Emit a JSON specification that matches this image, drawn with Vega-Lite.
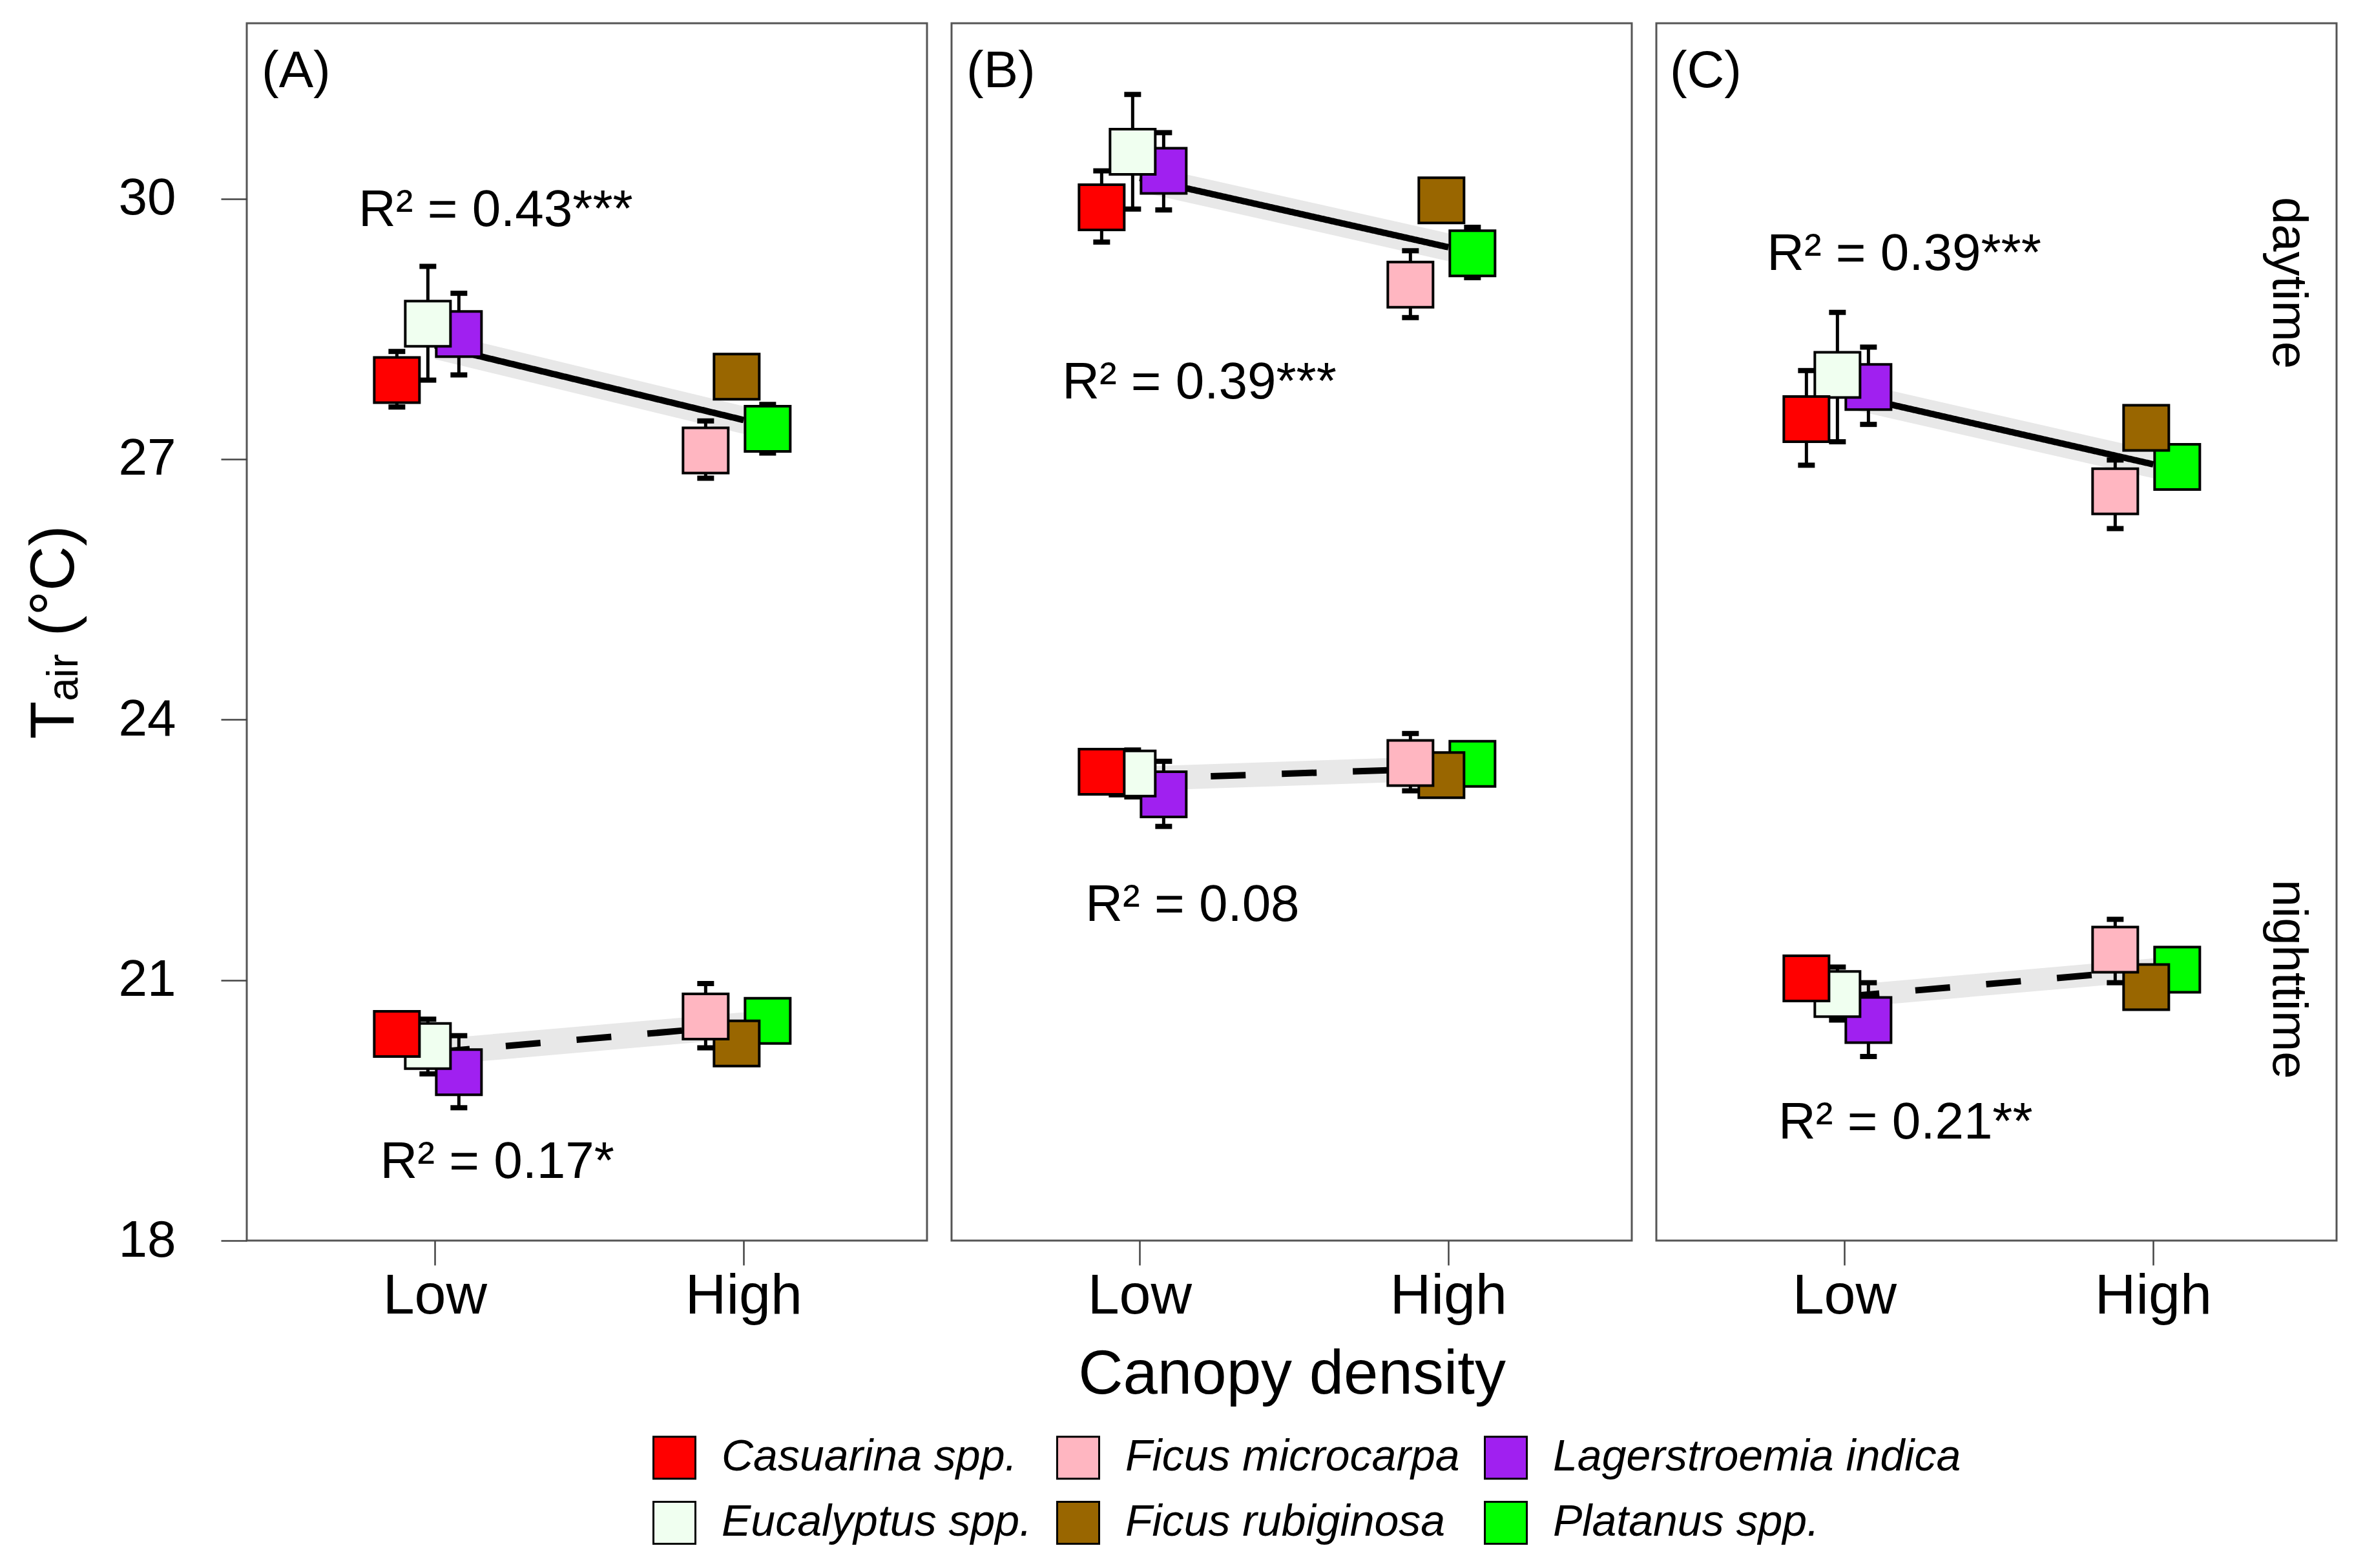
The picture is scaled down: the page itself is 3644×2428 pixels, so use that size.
{
  "$schema": "https://vega.github.io/schema/vega-lite/v6.json",
  "background": "white",
  "padding": {"left": 34, "top": 34, "right": 10, "bottom": 10},
  "config": {
    "font": "Liberation Sans",
    "view": {"stroke": "#555555", "strokeWidth": 3},
    "axis": {"grid": false, "domain": false, "tickColor": "#444444", "tickWidth": 2.5, "labelColor": "black", "titleColor": "black", "titleFontWeight": "normal"},
    "legend": {"direction": "horizontal", "columns": 3, "labelFontSize": 68, "labelFontStyle": "italic", "labelColor": "black", "symbolType": "square", "symbolSize": 4225, "symbolStrokeColor": "black", "symbolStrokeWidth": 3, "rowPadding": 23, "columnPadding": 32, "labelOffset": 39, "labelLimit": 0}
  },
  "data": {"values": [
    {"kind": "pt", "panel": "A", "period": "daytime", "density": "Low", "species": "Casuarina spp.", "mean": 27.91, "lo": 27.60, "hi": 28.24},
    {"kind": "pt", "panel": "A", "period": "daytime", "density": "Low", "species": "Eucalyptus spp.", "mean": 28.56, "lo": 27.91, "hi": 29.22},
    {"kind": "pt", "panel": "A", "period": "daytime", "density": "Low", "species": "Lagerstroemia indica", "mean": 28.44, "lo": 27.97, "hi": 28.91},
    {"kind": "pt", "panel": "A", "period": "daytime", "density": "High", "species": "Ficus microcarpa", "mean": 27.10, "lo": 26.78, "hi": 27.44},
    {"kind": "pt", "panel": "A", "period": "daytime", "density": "High", "species": "Ficus rubiginosa", "mean": 27.95, "lo": 27.85, "hi": 28.05},
    {"kind": "pt", "panel": "A", "period": "daytime", "density": "High", "species": "Platanus spp.", "mean": 27.35, "lo": 27.07, "hi": 27.63},
    {"kind": "pt", "panel": "A", "period": "nighttime", "density": "Low", "species": "Casuarina spp.", "mean": 20.38, "lo": 20.28, "hi": 20.48},
    {"kind": "pt", "panel": "A", "period": "nighttime", "density": "Low", "species": "Eucalyptus spp.", "mean": 20.24, "lo": 19.92, "hi": 20.55},
    {"kind": "pt", "panel": "A", "period": "nighttime", "density": "Low", "species": "Lagerstroemia indica", "mean": 19.94, "lo": 19.53, "hi": 20.36},
    {"kind": "pt", "panel": "A", "period": "nighttime", "density": "High", "species": "Ficus microcarpa", "mean": 20.58, "lo": 20.22, "hi": 20.96},
    {"kind": "pt", "panel": "A", "period": "nighttime", "density": "High", "species": "Ficus rubiginosa", "mean": 20.27, "lo": 20.17, "hi": 20.37},
    {"kind": "pt", "panel": "A", "period": "nighttime", "density": "High", "species": "Platanus spp.", "mean": 20.53, "lo": 20.43, "hi": 20.63},
    {"kind": "pt", "panel": "B", "period": "daytime", "density": "Low", "species": "Casuarina spp.", "mean": 29.90, "lo": 29.50, "hi": 30.32},
    {"kind": "pt", "panel": "B", "period": "daytime", "density": "Low", "species": "Eucalyptus spp.", "mean": 30.54, "lo": 29.88, "hi": 31.20},
    {"kind": "pt", "panel": "B", "period": "daytime", "density": "Low", "species": "Lagerstroemia indica", "mean": 30.32, "lo": 29.87, "hi": 30.76},
    {"kind": "pt", "panel": "B", "period": "daytime", "density": "High", "species": "Ficus microcarpa", "mean": 29.01, "lo": 28.63, "hi": 29.40},
    {"kind": "pt", "panel": "B", "period": "daytime", "density": "High", "species": "Ficus rubiginosa", "mean": 29.98, "lo": 29.88, "hi": 30.08},
    {"kind": "pt", "panel": "B", "period": "daytime", "density": "High", "species": "Platanus spp.", "mean": 29.37, "lo": 29.09, "hi": 29.67},
    {"kind": "pt", "panel": "B", "period": "nighttime", "density": "Low", "species": "Casuarina spp.", "mean": 23.40, "lo": 23.30, "hi": 23.50},
    {"kind": "pt", "panel": "B", "period": "nighttime", "density": "Low", "species": "Eucalyptus spp.", "mean": 23.38, "lo": 23.11, "hi": 23.65},
    {"kind": "pt", "panel": "B", "period": "nighttime", "density": "Low", "species": "Lagerstroemia indica", "mean": 23.14, "lo": 22.77, "hi": 23.52},
    {"kind": "pt", "panel": "B", "period": "nighttime", "density": "High", "species": "Ficus microcarpa", "mean": 23.50, "lo": 23.18, "hi": 23.84},
    {"kind": "pt", "panel": "B", "period": "nighttime", "density": "High", "species": "Ficus rubiginosa", "mean": 23.36, "lo": 23.26, "hi": 23.46},
    {"kind": "pt", "panel": "B", "period": "nighttime", "density": "High", "species": "Platanus spp.", "mean": 23.49, "lo": 23.39, "hi": 23.59},
    {"kind": "pt", "panel": "C", "period": "daytime", "density": "Low", "species": "Casuarina spp.", "mean": 27.46, "lo": 26.93, "hi": 28.02},
    {"kind": "pt", "panel": "C", "period": "daytime", "density": "Low", "species": "Eucalyptus spp.", "mean": 27.97, "lo": 27.20, "hi": 28.69},
    {"kind": "pt", "panel": "C", "period": "daytime", "density": "Low", "species": "Lagerstroemia indica", "mean": 27.83, "lo": 27.40, "hi": 28.29},
    {"kind": "pt", "panel": "C", "period": "daytime", "density": "High", "species": "Ficus microcarpa", "mean": 26.63, "lo": 26.20, "hi": 26.99},
    {"kind": "pt", "panel": "C", "period": "daytime", "density": "High", "species": "Ficus rubiginosa", "mean": 27.36, "lo": 27.26, "hi": 27.46},
    {"kind": "pt", "panel": "C", "period": "daytime", "density": "High", "species": "Platanus spp.", "mean": 26.91, "lo": 26.81, "hi": 27.01},
    {"kind": "pt", "panel": "C", "period": "nighttime", "density": "Low", "species": "Casuarina spp.", "mean": 21.02, "lo": 20.92, "hi": 21.12},
    {"kind": "pt", "panel": "C", "period": "nighttime", "density": "Low", "species": "Eucalyptus spp.", "mean": 20.84, "lo": 20.54, "hi": 21.15},
    {"kind": "pt", "panel": "C", "period": "nighttime", "density": "Low", "species": "Lagerstroemia indica", "mean": 20.54, "lo": 20.12, "hi": 20.97},
    {"kind": "pt", "panel": "C", "period": "nighttime", "density": "High", "species": "Ficus microcarpa", "mean": 21.35, "lo": 20.97, "hi": 21.70},
    {"kind": "pt", "panel": "C", "period": "nighttime", "density": "High", "species": "Ficus rubiginosa", "mean": 20.92, "lo": 20.82, "hi": 21.02},
    {"kind": "pt", "panel": "C", "period": "nighttime", "density": "High", "species": "Platanus spp.", "mean": 21.12, "lo": 21.02, "hi": 21.22},
    {"kind": "fit", "panel": "A", "period": "daytime", "density": "Low", "fit": 28.31, "lo": 28.15, "hi": 28.47},
    {"kind": "fit", "panel": "A", "period": "daytime", "density": "High", "fit": 27.45, "lo": 27.29, "hi": 27.61},
    {"kind": "fit", "panel": "A", "period": "nighttime", "density": "Low", "fit": 20.17, "lo": 20.02, "hi": 20.32},
    {"kind": "fit", "panel": "A", "period": "nighttime", "density": "High", "fit": 20.48, "lo": 20.33, "hi": 20.63},
    {"kind": "fit", "panel": "B", "period": "daytime", "density": "Low", "fit": 30.24, "lo": 30.08, "hi": 30.40},
    {"kind": "fit", "panel": "B", "period": "daytime", "density": "High", "fit": 29.44, "lo": 29.28, "hi": 29.60},
    {"kind": "fit", "panel": "B", "period": "nighttime", "density": "Low", "fit": 23.32, "lo": 23.18, "hi": 23.46},
    {"kind": "fit", "panel": "B", "period": "nighttime", "density": "High", "fit": 23.44, "lo": 23.30, "hi": 23.58},
    {"kind": "fit", "panel": "C", "period": "daytime", "density": "Low", "fit": 27.75, "lo": 27.59, "hi": 27.91},
    {"kind": "fit", "panel": "C", "period": "daytime", "density": "High", "fit": 26.94, "lo": 26.78, "hi": 27.10},
    {"kind": "fit", "panel": "C", "period": "nighttime", "density": "Low", "fit": 20.81, "lo": 20.68, "hi": 20.94},
    {"kind": "fit", "panel": "C", "period": "nighttime", "density": "High", "fit": 21.12, "lo": 20.99, "hi": 21.25},
    {"kind": "note", "panel": "A", "label": "R² = 0.43***", "x": 1.197, "y": 29.86},
    {"kind": "note", "panel": "A", "label": "R² = 0.17*", "x": 1.202, "y": 18.90},
    {"kind": "note", "panel": "B", "label": "R² = 0.39***", "x": 1.193, "y": 27.88},
    {"kind": "note", "panel": "B", "label": "R² = 0.08", "x": 1.171, "y": 21.86},
    {"kind": "note", "panel": "C", "label": "R² = 0.39***", "x": 1.193, "y": 29.36},
    {"kind": "note", "panel": "C", "label": "R² = 0.21**", "x": 1.198, "y": 19.35},
    {"kind": "note", "panel": "A", "label": "(A)", "x": 0.55, "y": 31.46},
    {"kind": "note", "panel": "B", "label": "(B)", "x": 0.55, "y": 31.46},
    {"kind": "note", "panel": "C", "label": "(C)", "x": 0.55, "y": 31.46},
    {"kind": "side", "panel": "C", "label": "daytime", "x": 2.438, "y": 29.03},
    {"kind": "side", "panel": "C", "label": "nighttime", "x": 2.438, "y": 21.01}
  ]},
  "spacing": 34,
  "resolve": {"scale": {"fill": "shared", "strokeDash": "shared", "xOffset": "independent"}, "legend": {"fill": "shared"}},
  "hconcat": [
    {
      "width": 1053, "height": 1885,
      "transform": [{"filter": "datum.panel === 'A'"}],
      "resolve": {"scale": {"x": "independent"}},
      "layer": [
        {"layer": [
          {"transform": [{"filter": "datum.kind === 'fit'"}],
           "mark": {"type": "area", "color": "#e8e8e8", "opacity": 1},
           "encoding": {
             "x": {"field": "density", "type": "nominal", "title": null, "sort": ["Low", "High"], "scale": {"type": "band", "domain": ["Low", "High"], "paddingInner": 0.6, "paddingOuter": 0.4015, "align": 0.51}, "axis": {"tickSize": 38, "labelFontSize": 88, "labelPadding": 4, "labelAngle": 0, "labelLimit": 600}},
             "y": {"field": "lo", "type": "quantitative", "title": "Tₐᵢᵣ (°C)", "scale": {"domain": [18, 32.02], "nice": false, "zero": false}, "axis": {"values": [18, 21, 24, 27, 30], "format": "d", "tickSize": 40, "labelFontSize": 80, "labelPadding": 70, "titleFontSize": 96, "titlePadding": 50, "labelFlush": false}},
             "y2": {"field": "hi"},
             "detail": {"field": "period"}}},
          {"transform": [{"filter": "datum.kind === 'fit'"}],
           "mark": {"type": "line", "color": "black", "strokeWidth": 10, "strokeCap": "butt"},
           "encoding": {
             "x": {"field": "density", "type": "nominal", "title": null, "sort": ["Low", "High"], "scale": {"type": "band", "domain": ["Low", "High"], "paddingInner": 0.6, "paddingOuter": 0.4015, "align": 0.51}},
             "y": {"field": "fit", "type": "quantitative", "title": "Tₐᵢᵣ (°C)", "scale": {"domain": [18, 32.02], "nice": false, "zero": false}},
             "detail": {"field": "period"},
             "strokeDash": {"field": "period", "type": "nominal", "scale": {"domain": ["daytime", "nighttime"], "range": [[1, 0], [54, 56]]}, "legend": null}}},
          {"transform": [{"filter": "datum.kind === 'pt'"}, {"window": [{"op": "row_number", "as": "slot"}], "groupby": ["period", "density"], "sort": [{"field": "species", "order": "ascending"}]}],
           "mark": {"type": "rule", "color": "black", "strokeWidth": 5},
           "encoding": {
             "x": {"field": "density", "type": "nominal", "title": null, "sort": ["Low", "High"], "scale": {"type": "band", "domain": ["Low", "High"], "paddingInner": 0.6, "paddingOuter": 0.4015, "align": 0.51}},
             "xOffset": {"field": "slot", "type": "ordinal", "scale": {"type": "band", "domain": [1, 2, 3], "paddingInner": 0, "paddingOuter": 0.4917, "align": 0.267}},
             "y": {"field": "lo", "type": "quantitative", "title": "Tₐᵢᵣ (°C)", "scale": {"domain": [18, 32.02], "nice": false, "zero": false}},
             "y2": {"field": "hi"}}},
          {"transform": [{"filter": "datum.kind === 'pt'"}, {"window": [{"op": "row_number", "as": "slot"}], "groupby": ["period", "density"], "sort": [{"field": "species", "order": "ascending"}]}],
           "mark": {"type": "tick", "orient": "horizontal", "color": "black", "thickness": 8, "size": 26, "opacity": 1},
           "encoding": {
             "x": {"field": "density", "type": "nominal", "title": null, "sort": ["Low", "High"], "scale": {"type": "band", "domain": ["Low", "High"], "paddingInner": 0.6, "paddingOuter": 0.4015, "align": 0.51}},
             "xOffset": {"field": "slot", "type": "ordinal", "scale": {"type": "band", "domain": [1, 2, 3], "paddingInner": 0, "paddingOuter": 0.4917, "align": 0.267}},
             "y": {"field": "lo", "type": "quantitative", "title": "Tₐᵢᵣ (°C)", "scale": {"domain": [18, 32.02], "nice": false, "zero": false}}}},
          {"transform": [{"filter": "datum.kind === 'pt'"}, {"window": [{"op": "row_number", "as": "slot"}], "groupby": ["period", "density"], "sort": [{"field": "species", "order": "ascending"}]}],
           "mark": {"type": "tick", "orient": "horizontal", "color": "black", "thickness": 8, "size": 26, "opacity": 1},
           "encoding": {
             "x": {"field": "density", "type": "nominal", "title": null, "sort": ["Low", "High"], "scale": {"type": "band", "domain": ["Low", "High"], "paddingInner": 0.6, "paddingOuter": 0.4015, "align": 0.51}},
             "xOffset": {"field": "slot", "type": "ordinal", "scale": {"type": "band", "domain": [1, 2, 3], "paddingInner": 0, "paddingOuter": 0.4917, "align": 0.267}},
             "y": {"field": "hi", "type": "quantitative", "title": "Tₐᵢᵣ (°C)", "scale": {"domain": [18, 32.02], "nice": false, "zero": false}}}},
          {"transform": [{"filter": "datum.kind === 'pt'"}, {"window": [{"op": "row_number", "as": "slot"}], "groupby": ["period", "density"], "sort": [{"field": "species", "order": "ascending"}]}],
           "mark": {"type": "point", "shape": "square", "filled": true, "size": 4900, "stroke": "black", "strokeWidth": 4, "opacity": 1},
           "encoding": {
             "x": {"field": "density", "type": "nominal", "title": null, "sort": ["Low", "High"], "scale": {"type": "band", "domain": ["Low", "High"], "paddingInner": 0.6, "paddingOuter": 0.4015, "align": 0.51}},
             "xOffset": {"field": "slot", "type": "ordinal", "scale": {"type": "band", "domain": [1, 2, 3], "paddingInner": 0, "paddingOuter": 0.4917, "align": 0.267}},
             "y": {"field": "mean", "type": "quantitative", "title": "Tₐᵢᵣ (°C)", "scale": {"domain": [18, 32.02], "nice": false, "zero": false}},
             "fill": {"field": "species", "type": "nominal", "scale": {"domain": ["Casuarina spp.", "Ficus microcarpa", "Lagerstroemia indica", "Eucalyptus spp.", "Ficus rubiginosa", "Platanus spp."], "range": ["#ff0000", "#ffb6c1", "#a020f0", "#f0fff0", "#996600", "#00ff00"]}, "legend": {"title": null, "orient": "none", "legendX": 628, "legendY": 2187}},
             "order": {"field": "slot", "sort": "descending"}}}
        ]},
        {"layer": [
          {"transform": [{"filter": "datum.kind === 'note'"}],
           "mark": {"type": "text", "fontSize": 80, "align": "center", "baseline": "middle", "color": "black"},
           "encoding": {
             "x": {"field": "x", "type": "quantitative", "scale": {"domain": [0.39, 2.595], "nice": false, "zero": false}, "axis": null},
             "y": {"field": "y", "type": "quantitative", "title": "Tₐᵢᵣ (°C)", "scale": {"domain": [18, 32.02], "nice": false, "zero": false}},
             "text": {"field": "label"}}}
        ]}
      ]
    },
    {
      "width": 1053, "height": 1885,
      "transform": [{"filter": "datum.panel === 'B'"}],
      "resolve": {"scale": {"x": "independent"}},
      "layer": [
        {"layer": [
          {"transform": [{"filter": "datum.kind === 'fit'"}],
           "mark": {"type": "area", "color": "#e8e8e8", "opacity": 1},
           "encoding": {
             "x": {"field": "density", "type": "nominal", "title": "Canopy density", "sort": ["Low", "High"], "scale": {"type": "band", "domain": ["Low", "High"], "paddingInner": 0.6, "paddingOuter": 0.4015, "align": 0.51}, "axis": {"tickSize": 38, "labelFontSize": 88, "labelPadding": 4, "labelAngle": 0, "labelLimit": 600, "titleFontSize": 96, "titlePadding": 30}},
             "y": {"field": "lo", "type": "quantitative", "scale": {"domain": [18, 32.02], "nice": false, "zero": false}, "axis": null},
             "y2": {"field": "hi"},
             "detail": {"field": "period"}}},
          {"transform": [{"filter": "datum.kind === 'fit'"}],
           "mark": {"type": "line", "color": "black", "strokeWidth": 10, "strokeCap": "butt"},
           "encoding": {
             "x": {"field": "density", "type": "nominal", "title": "Canopy density", "sort": ["Low", "High"], "scale": {"type": "band", "domain": ["Low", "High"], "paddingInner": 0.6, "paddingOuter": 0.4015, "align": 0.51}},
             "y": {"field": "fit", "type": "quantitative", "scale": {"domain": [18, 32.02], "nice": false, "zero": false}, "axis": null},
             "detail": {"field": "period"},
             "strokeDash": {"field": "period", "type": "nominal", "scale": {"domain": ["daytime", "nighttime"], "range": [[1, 0], [54, 56]]}, "legend": null}}},
          {"transform": [{"filter": "datum.kind === 'pt'"}, {"window": [{"op": "row_number", "as": "slot"}], "groupby": ["period", "density"], "sort": [{"field": "species", "order": "ascending"}]}],
           "mark": {"type": "rule", "color": "black", "strokeWidth": 5},
           "encoding": {
             "x": {"field": "density", "type": "nominal", "title": "Canopy density", "sort": ["Low", "High"], "scale": {"type": "band", "domain": ["Low", "High"], "paddingInner": 0.6, "paddingOuter": 0.4015, "align": 0.51}},
             "xOffset": {"field": "slot", "type": "ordinal", "scale": {"type": "band", "domain": [1, 2, 3], "paddingInner": 0, "paddingOuter": 0.4917, "align": 0.267}},
             "y": {"field": "lo", "type": "quantitative", "scale": {"domain": [18, 32.02], "nice": false, "zero": false}, "axis": null},
             "y2": {"field": "hi"}}},
          {"transform": [{"filter": "datum.kind === 'pt'"}, {"window": [{"op": "row_number", "as": "slot"}], "groupby": ["period", "density"], "sort": [{"field": "species", "order": "ascending"}]}],
           "mark": {"type": "tick", "orient": "horizontal", "color": "black", "thickness": 8, "size": 26, "opacity": 1},
           "encoding": {
             "x": {"field": "density", "type": "nominal", "title": "Canopy density", "sort": ["Low", "High"], "scale": {"type": "band", "domain": ["Low", "High"], "paddingInner": 0.6, "paddingOuter": 0.4015, "align": 0.51}},
             "xOffset": {"field": "slot", "type": "ordinal", "scale": {"type": "band", "domain": [1, 2, 3], "paddingInner": 0, "paddingOuter": 0.4917, "align": 0.267}},
             "y": {"field": "lo", "type": "quantitative", "scale": {"domain": [18, 32.02], "nice": false, "zero": false}, "axis": null}}},
          {"transform": [{"filter": "datum.kind === 'pt'"}, {"window": [{"op": "row_number", "as": "slot"}], "groupby": ["period", "density"], "sort": [{"field": "species", "order": "ascending"}]}],
           "mark": {"type": "tick", "orient": "horizontal", "color": "black", "thickness": 8, "size": 26, "opacity": 1},
           "encoding": {
             "x": {"field": "density", "type": "nominal", "title": "Canopy density", "sort": ["Low", "High"], "scale": {"type": "band", "domain": ["Low", "High"], "paddingInner": 0.6, "paddingOuter": 0.4015, "align": 0.51}},
             "xOffset": {"field": "slot", "type": "ordinal", "scale": {"type": "band", "domain": [1, 2, 3], "paddingInner": 0, "paddingOuter": 0.4917, "align": 0.267}},
             "y": {"field": "hi", "type": "quantitative", "scale": {"domain": [18, 32.02], "nice": false, "zero": false}, "axis": null}}},
          {"transform": [{"filter": "datum.kind === 'pt'"}, {"window": [{"op": "row_number", "as": "slot"}], "groupby": ["period", "density"], "sort": [{"field": "species", "order": "ascending"}]}],
           "mark": {"type": "point", "shape": "square", "filled": true, "size": 4900, "stroke": "black", "strokeWidth": 4, "opacity": 1},
           "encoding": {
             "x": {"field": "density", "type": "nominal", "title": "Canopy density", "sort": ["Low", "High"], "scale": {"type": "band", "domain": ["Low", "High"], "paddingInner": 0.6, "paddingOuter": 0.4015, "align": 0.51}},
             "xOffset": {"field": "slot", "type": "ordinal", "scale": {"type": "band", "domain": [1, 2, 3], "paddingInner": 0, "paddingOuter": 0.4917, "align": 0.267}},
             "y": {"field": "mean", "type": "quantitative", "scale": {"domain": [18, 32.02], "nice": false, "zero": false}, "axis": null},
             "fill": {"field": "species", "type": "nominal", "scale": {"domain": ["Casuarina spp.", "Ficus microcarpa", "Lagerstroemia indica", "Eucalyptus spp.", "Ficus rubiginosa", "Platanus spp."], "range": ["#ff0000", "#ffb6c1", "#a020f0", "#f0fff0", "#996600", "#00ff00"]}, "legend": {"title": null, "orient": "none", "legendX": 628, "legendY": 2187}},
             "order": {"field": "slot", "sort": "descending"}}}
        ]},
        {"layer": [
          {"transform": [{"filter": "datum.kind === 'note'"}],
           "mark": {"type": "text", "fontSize": 80, "align": "center", "baseline": "middle", "color": "black"},
           "encoding": {
             "x": {"field": "x", "type": "quantitative", "scale": {"domain": [0.39, 2.595], "nice": false, "zero": false}, "axis": null},
             "y": {"field": "y", "type": "quantitative", "scale": {"domain": [18, 32.02], "nice": false, "zero": false}, "axis": null},
             "text": {"field": "label"}}}
        ]}
      ]
    },
    {
      "width": 1053, "height": 1885,
      "transform": [{"filter": "datum.panel === 'C'"}],
      "resolve": {"scale": {"x": "independent"}},
      "layer": [
        {"layer": [
          {"transform": [{"filter": "datum.kind === 'fit'"}],
           "mark": {"type": "area", "color": "#e8e8e8", "opacity": 1},
           "encoding": {
             "x": {"field": "density", "type": "nominal", "title": null, "sort": ["Low", "High"], "scale": {"type": "band", "domain": ["Low", "High"], "paddingInner": 0.6, "paddingOuter": 0.4015, "align": 0.51}, "axis": {"tickSize": 38, "labelFontSize": 88, "labelPadding": 4, "labelAngle": 0, "labelLimit": 600}},
             "y": {"field": "lo", "type": "quantitative", "scale": {"domain": [18, 32.02], "nice": false, "zero": false}, "axis": null},
             "y2": {"field": "hi"},
             "detail": {"field": "period"}}},
          {"transform": [{"filter": "datum.kind === 'fit'"}],
           "mark": {"type": "line", "color": "black", "strokeWidth": 10, "strokeCap": "butt"},
           "encoding": {
             "x": {"field": "density", "type": "nominal", "title": null, "sort": ["Low", "High"], "scale": {"type": "band", "domain": ["Low", "High"], "paddingInner": 0.6, "paddingOuter": 0.4015, "align": 0.51}},
             "y": {"field": "fit", "type": "quantitative", "scale": {"domain": [18, 32.02], "nice": false, "zero": false}, "axis": null},
             "detail": {"field": "period"},
             "strokeDash": {"field": "period", "type": "nominal", "scale": {"domain": ["daytime", "nighttime"], "range": [[1, 0], [54, 56]]}, "legend": null}}},
          {"transform": [{"filter": "datum.kind === 'pt'"}, {"window": [{"op": "row_number", "as": "slot"}], "groupby": ["period", "density"], "sort": [{"field": "species", "order": "ascending"}]}],
           "mark": {"type": "rule", "color": "black", "strokeWidth": 5},
           "encoding": {
             "x": {"field": "density", "type": "nominal", "title": null, "sort": ["Low", "High"], "scale": {"type": "band", "domain": ["Low", "High"], "paddingInner": 0.6, "paddingOuter": 0.4015, "align": 0.51}},
             "xOffset": {"field": "slot", "type": "ordinal", "scale": {"type": "band", "domain": [1, 2, 3], "paddingInner": 0, "paddingOuter": 0.4917, "align": 0.267}},
             "y": {"field": "lo", "type": "quantitative", "scale": {"domain": [18, 32.02], "nice": false, "zero": false}, "axis": null},
             "y2": {"field": "hi"}}},
          {"transform": [{"filter": "datum.kind === 'pt'"}, {"window": [{"op": "row_number", "as": "slot"}], "groupby": ["period", "density"], "sort": [{"field": "species", "order": "ascending"}]}],
           "mark": {"type": "tick", "orient": "horizontal", "color": "black", "thickness": 8, "size": 26, "opacity": 1},
           "encoding": {
             "x": {"field": "density", "type": "nominal", "title": null, "sort": ["Low", "High"], "scale": {"type": "band", "domain": ["Low", "High"], "paddingInner": 0.6, "paddingOuter": 0.4015, "align": 0.51}},
             "xOffset": {"field": "slot", "type": "ordinal", "scale": {"type": "band", "domain": [1, 2, 3], "paddingInner": 0, "paddingOuter": 0.4917, "align": 0.267}},
             "y": {"field": "lo", "type": "quantitative", "scale": {"domain": [18, 32.02], "nice": false, "zero": false}, "axis": null}}},
          {"transform": [{"filter": "datum.kind === 'pt'"}, {"window": [{"op": "row_number", "as": "slot"}], "groupby": ["period", "density"], "sort": [{"field": "species", "order": "ascending"}]}],
           "mark": {"type": "tick", "orient": "horizontal", "color": "black", "thickness": 8, "size": 26, "opacity": 1},
           "encoding": {
             "x": {"field": "density", "type": "nominal", "title": null, "sort": ["Low", "High"], "scale": {"type": "band", "domain": ["Low", "High"], "paddingInner": 0.6, "paddingOuter": 0.4015, "align": 0.51}},
             "xOffset": {"field": "slot", "type": "ordinal", "scale": {"type": "band", "domain": [1, 2, 3], "paddingInner": 0, "paddingOuter": 0.4917, "align": 0.267}},
             "y": {"field": "hi", "type": "quantitative", "scale": {"domain": [18, 32.02], "nice": false, "zero": false}, "axis": null}}},
          {"transform": [{"filter": "datum.kind === 'pt'"}, {"window": [{"op": "row_number", "as": "slot"}], "groupby": ["period", "density"], "sort": [{"field": "species", "order": "ascending"}]}],
           "mark": {"type": "point", "shape": "square", "filled": true, "size": 4900, "stroke": "black", "strokeWidth": 4, "opacity": 1},
           "encoding": {
             "x": {"field": "density", "type": "nominal", "title": null, "sort": ["Low", "High"], "scale": {"type": "band", "domain": ["Low", "High"], "paddingInner": 0.6, "paddingOuter": 0.4015, "align": 0.51}},
             "xOffset": {"field": "slot", "type": "ordinal", "scale": {"type": "band", "domain": [1, 2, 3], "paddingInner": 0, "paddingOuter": 0.4917, "align": 0.267}},
             "y": {"field": "mean", "type": "quantitative", "scale": {"domain": [18, 32.02], "nice": false, "zero": false}, "axis": null},
             "fill": {"field": "species", "type": "nominal", "scale": {"domain": ["Casuarina spp.", "Ficus microcarpa", "Lagerstroemia indica", "Eucalyptus spp.", "Ficus rubiginosa", "Platanus spp."], "range": ["#ff0000", "#ffb6c1", "#a020f0", "#f0fff0", "#996600", "#00ff00"]}, "legend": {"title": null, "orient": "none", "legendX": 628, "legendY": 2187}},
             "order": {"field": "slot", "sort": "descending"}}}
        ]},
        {"layer": [
          {"transform": [{"filter": "datum.kind === 'note'"}],
           "mark": {"type": "text", "fontSize": 80, "align": "center", "baseline": "middle", "color": "black"},
           "encoding": {
             "x": {"field": "x", "type": "quantitative", "scale": {"domain": [0.39, 2.595], "nice": false, "zero": false}, "axis": null},
             "y": {"field": "y", "type": "quantitative", "scale": {"domain": [18, 32.02], "nice": false, "zero": false}, "axis": null},
             "text": {"field": "label"}}},
          {"transform": [{"filter": "datum.kind === 'side'"}],
           "mark": {"type": "text", "fontSize": 76, "align": "center", "baseline": "middle", "angle": 90, "color": "black"},
           "encoding": {
             "x": {"field": "x", "type": "quantitative", "scale": {"domain": [0.39, 2.595], "nice": false, "zero": false}, "axis": null},
             "y": {"field": "y", "type": "quantitative", "scale": {"domain": [18, 32.02], "nice": false, "zero": false}, "axis": null},
             "text": {"field": "label"}}}
        ]}
      ]
    }
  ]
}
